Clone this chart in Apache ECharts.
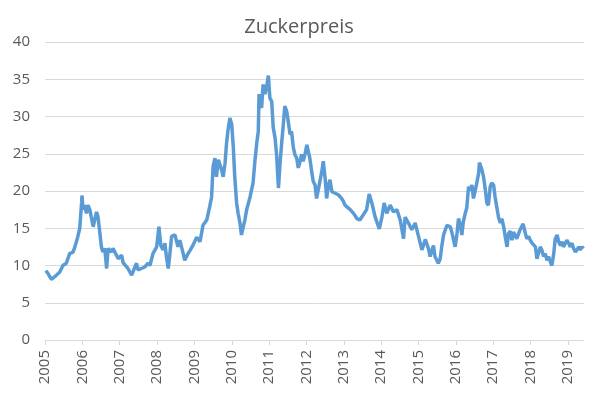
<!DOCTYPE html>
<html>
<head>
<meta charset="utf-8">
<script src="https://cdn.jsdelivr.net/npm/echarts@6/dist/echarts.min.js"></script>
<style>
  html, body { margin: 0; padding: 0; background: #fff; }
  #chart { width: 598px; height: 398px; }
</style>
</head>
<body>
<div id="chart"></div>
<script>
var chart = echarts.init(document.getElementById('chart'));

// Zeitpunkte (Dezimaljahre)
var years = [
  2005.02, 2005.07, 2005.17, 2005.26, 2005.39, 2005.48, 2005.57, 2005.66, 2005.75, 2005.80,
  2005.88, 2005.93, 2005.98, 2005.99, 2006.02, 2006.06, 2006.11, 2006.15, 2006.20, 2006.24,
  2006.29, 2006.33, 2006.38, 2006.42, 2006.47, 2006.51, 2006.55, 2006.60, 2006.65, 2006.69,
  2006.78, 2006.82, 2006.91, 2006.96, 2007.00, 2007.05, 2007.09, 2007.14, 2007.22, 2007.32,
  2007.36, 2007.45, 2007.49, 2007.58, 2007.67, 2007.76, 2007.81, 2007.89, 2007.99, 2008.05,
  2008.10, 2008.16, 2008.21, 2008.25, 2008.30, 2008.34, 2008.39, 2008.48, 2008.52, 2008.56,
  2008.61, 2008.70, 2008.74, 2008.83, 2008.88, 2008.97, 2009.06, 2009.15, 2009.23, 2009.33,
  2009.37, 2009.41, 2009.46, 2009.50, 2009.55, 2009.59, 2009.64, 2009.73, 2009.77, 2009.82,
  2009.86, 2009.90, 2009.95, 2010.00, 2010.04, 2010.08, 2010.13, 2010.17, 2010.22, 2010.26,
  2010.31, 2010.35, 2010.40, 2010.49, 2010.57, 2010.62, 2010.67, 2010.71, 2010.73, 2010.75,
  2010.80, 2010.84, 2010.89, 2010.93, 2010.98, 2011.02, 2011.07, 2011.11, 2011.16, 2011.20,
  2011.25, 2011.29, 2011.34, 2011.38, 2011.42, 2011.47, 2011.51, 2011.56, 2011.60, 2011.65,
  2011.69, 2011.74, 2011.78, 2011.83, 2011.87, 2011.91, 2011.96, 2012.01, 2012.05, 2012.09,
  2012.14, 2012.18, 2012.23, 2012.27, 2012.32, 2012.36, 2012.41, 2012.45, 2012.50, 2012.54,
  2012.59, 2012.63, 2012.68, 2012.77, 2012.85, 2012.90, 2012.94, 2012.99, 2013.03, 2013.08,
  2013.17, 2013.26, 2013.35, 2013.43, 2013.52, 2013.61, 2013.68, 2013.75, 2013.84, 2013.95,
  2014.02, 2014.08, 2014.15, 2014.24, 2014.33, 2014.42, 2014.51, 2014.60, 2014.64, 2014.73,
  2014.82, 2014.91, 2015.00, 2015.09, 2015.18, 2015.27, 2015.31, 2015.36, 2015.40, 2015.44,
  2015.53, 2015.58, 2015.62, 2015.67, 2015.76, 2015.85, 2015.89, 2015.98, 2016.03, 2016.07,
  2016.12, 2016.16, 2016.20, 2016.25, 2016.29, 2016.34, 2016.38, 2016.43, 2016.47, 2016.52,
  2016.56, 2016.61, 2016.63, 2016.70, 2016.74, 2016.79, 2016.83, 2016.87, 2016.92, 2016.96,
  2017.01, 2017.05, 2017.10, 2017.14, 2017.19, 2017.23, 2017.28, 2017.32, 2017.37, 2017.41,
  2017.46, 2017.50, 2017.54, 2017.63, 2017.72, 2017.80, 2017.86, 2017.90, 2017.95, 2017.99,
  2018.04, 2018.13, 2018.17, 2018.21, 2018.26, 2018.30, 2018.35, 2018.39, 2018.44, 2018.48,
  2018.53, 2018.57, 2018.62, 2018.66, 2018.71, 2018.75, 2018.80, 2018.84, 2018.88, 2018.93,
  2018.97, 2019.02, 2019.06, 2019.11, 2019.15, 2019.20, 2019.24, 2019.29, 2019.33, 2019.38,
  2019.42
];

// Zuckerpreis
var prices = [
  9.3, 9.0, 8.15, 8.5, 9.1, 10.0, 10.3, 11.6, 11.8, 12.5,
  13.9, 15.0, 18.4, 19.4, 17.5, 18.1, 17.0, 18.1, 17.5, 16.5,
  15.2, 16.1, 17.2, 16.5, 14.3, 12.5, 11.8, 12.3, 9.6, 12.3,
  11.8, 12.3, 11.4, 10.9, 10.9, 11.4, 10.4, 10.3, 9.6, 8.7,
  8.5, 10.3, 9.4, 9.6, 9.8, 10.3, 10.0, 11.6, 12.5, 15.2,
  12.7, 12.1, 13.0, 11.2, 9.6, 11.4, 13.9, 14.1, 14.1, 12.5,
  13.4, 11.6, 10.7, 11.6, 12.0, 12.8, 13.8, 13.2, 15.4, 16.1,
  17.0, 17.9, 19.2, 23.3, 24.4, 21.9, 24.2, 22.8, 21.9, 23.7,
  26.4, 28.2, 29.8, 28.9, 26.0, 21.9, 18.4, 17.0, 15.7, 14.1,
  14.3, 16.1, 17.5, 19.2, 21.1, 24.0, 26.5, 28.0, 33.0, 31.5,
  31.2, 34.3, 33.0, 33.9, 35.5, 32.5, 32.0, 28.5, 27.1, 24.9,
  20.4, 23.5, 26.7, 28.9, 31.4, 30.7, 29.4, 27.6, 28.0, 25.8,
  24.9, 24.4, 23.1, 24.0, 24.9, 24.0, 24.9, 26.2, 26.4, 24.4,
  22.6, 21.3, 20.8, 19.0, 18.8, 21.3, 22.6, 24.0, 21.7, 19.0,
  20.8, 21.5, 19.9, 19.7, 19.5, 19.7, 19.0, 18.6, 18.1, 17.9,
  17.5, 17.0, 16.3, 16.1, 16.8, 17.5, 19.6, 18.4, 16.5, 14.9,
  16.5, 18.4, 17.0, 18.1, 17.2, 17.5, 16.1, 13.6, 16.5, 15.7,
  14.8, 15.7, 13.9, 12.1, 13.5, 12.2, 11.2, 11.2, 12.7, 11.2,
  10.3, 10.9, 12.5, 14.1, 15.4, 15.2, 14.5, 12.5, 14.3, 16.3,
  15.4, 14.1, 15.9, 17.0, 17.7, 20.6, 20.1, 20.8, 19.0, 20.1,
  21.1, 22.4, 23.8, 22.8, 21.9, 20.1, 18.4, 18.1, 20.6, 21.1,
  20.8, 19.2, 17.7, 16.5, 15.7, 16.3, 15.2, 13.9, 12.5, 14.3,
  14.6, 13.4, 14.5, 13.6, 14.8, 15.6, 14.3, 13.6, 13.9, 13.4,
  13.0, 12.5, 10.9, 11.6, 12.5, 12.1, 11.2, 11.6, 10.7, 11.2,
  10.5, 10.0, 11.6, 13.6, 14.1, 13.2, 12.7, 13.2, 12.5, 13.0,
  13.4, 13.0, 12.5, 13.0, 12.3, 11.8, 12.1, 12.5, 12.1, 12.5,
  12.3
];

var yearTicks = [2005, 2006, 2007, 2008, 2009, 2010, 2011, 2012, 2013, 2014, 2015, 2016, 2017, 2018, 2019];

var seriesData = years.map(function (t, i) {
    return [t, prices[i]];
});

var option = {
    animation: false,
    title: {
        text: 'Zuckerpreis',
        left: 'center',
        top: 12,
        textStyle: {
            fontFamily: 'Open Sans',
            fontWeight: 'normal',
            fontSize: 20,
            color: '#595959'
        }
    },
    grid: {
        left: 45,
        right: 14,
        top: 42,
        bottom: 58
    },
    xAxis: {
        type: 'value',
        min: 2005,
        max: 2019.43,
        interval: 1,
        axisLine: { show: true, lineStyle: { color: '#d9d9d9', width: 1 } },
        axisTick: {
            show: true,
            length: 5,
            customValues: yearTicks,
            lineStyle: { color: '#d9d9d9' }
        },
        axisLabel: {
            rotate: 90,
            margin: 10,
            customValues: yearTicks,
            fontFamily: 'Open Sans',
            fontSize: 15,
            color: '#595959',
            formatter: function (v) { return String(v); }
        },
        splitLine: { show: false }
    },
    yAxis: {
        type: 'value',
        min: 0,
        max: 40,
        interval: 5,
        axisLine: { show: false },
        axisTick: { show: false },
        axisLabel: {
            margin: 15,
            fontFamily: 'Open Sans',
            fontSize: 15,
            color: '#595959'
        },
        splitLine: { lineStyle: { color: '#d9d9d9', width: 1 } }
    },
    series: [
        {
            name: 'Zuckerpreis',
            type: 'line',
            data: seriesData,
            showSymbol: false,
            smooth: false,
            lineStyle: { color: '#5b9bd5', width: 3.5 },
            itemStyle: { color: '#5b9bd5' }
        }
    ]
};

chart.setOption(option);
</script>
</body>
</html>
